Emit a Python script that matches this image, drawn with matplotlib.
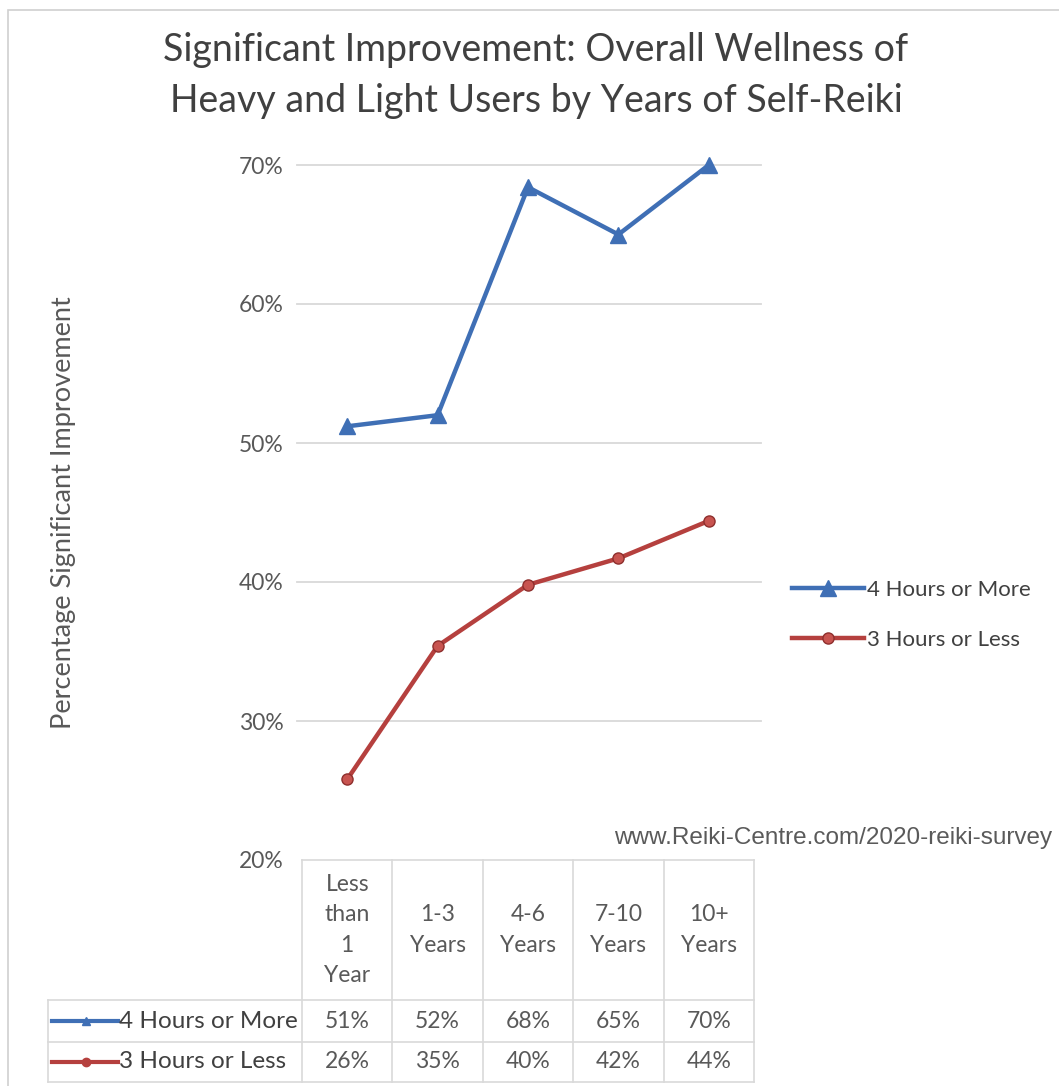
import numpy as np
import matplotlib.pyplot as plt
from matplotlib.lines import Line2D
from matplotlib.patches import Rectangle

plt.rcParams['font.family'] = ['Lato', 'DejaVu Sans']

# --- data ---
categories = ["Less\nthan\n1\nYear", "1-3\nYears", "4-6\nYears", "7-10\nYears", "10+\nYears"]
series_names = ["4 Hours or More", "3 Hours or Less"]
heavy = [51.2, 52.0, 68.4, 65.0, 70.0]
light = [25.8, 35.4, 39.8, 41.7, 44.4]
y_ticks = [20, 30, 40, 50, 60, 70]

blue = "#3f6fb5"
red = "#b5403e"
grey_text = "#595959"
grid_col = "#d9d9d9"

W, H = 1059, 1086
fig = plt.figure(figsize=(W / 100, H / 100), dpi=100)

# outer chart border
fig.patches.append(Rectangle((8 / W, -0.05), 1.1, (H - 10) / H + 0.05,
                             transform=fig.transFigure, fill=False,
                             edgecolor="#d0d0d0", linewidth=1.2))

ax = fig.add_axes([302 / W, 1 - 860 / H, 452 / W, 695 / H])
x = np.arange(len(categories))

ax.plot(x, heavy, color=blue, linewidth=3.2, marker="^", markersize=11,
        markerfacecolor=blue, markeredgecolor=blue, clip_on=False, zorder=3,
        label=series_names[0])
ax.plot(x, light, color=red, linewidth=3.2, marker="o", markersize=8,
        markerfacecolor="#c85450", markeredgecolor="#8e2f2d", clip_on=False,
        zorder=3, label=series_names[1])

ax.set_xlim(-0.5, len(categories) - 0.5)
ax.set_ylim(20, 70)
ax.set_yticks(y_ticks)
ax.set_yticklabels([f"{v}%" for v in y_ticks], fontsize=16.5, color=grey_text)
for v in y_ticks[1:]:
    ax.axhline(v, color=grid_col, linewidth=1.3, zorder=1, xmin=-0.01, xmax=1.015,
               clip_on=False)
ax.tick_params(axis="y", length=0, pad=13)
ax.set_xticks([])
for s in ax.spines.values():
    s.set_visible(False)

ax.set_ylabel("Percentage Significant Improvement", fontsize=19.5,
              color=grey_text, labelpad=0)
ax.yaxis.set_label_coords(-0.5, 0.5)

# --- data table below the plot ---
tr = ax.get_xaxis_transform()
px = 1 / 695  # one pixel in axes height units
y_head = -140 * px
y_r1 = -182 * px
y_r2 = -222 * px
x_left = -3.31
n = len(categories)

table_lines = [
    ([-0.5, n - 0.5], [0, 0]),
    ([x_left, n - 0.5], [y_head, y_head]),
    ([x_left, n - 0.5], [y_r1, y_r1]),
    ([x_left, n - 0.5], [y_r2, y_r2]),
    ([x_left, x_left], [y_head, y_r2]),
]
for i in range(n + 1):
    table_lines.append(([i - 0.5, i - 0.5], [0, y_r2]))
for xs, ys in table_lines:
    ax.add_line(Line2D(xs, ys, transform=tr, color=grid_col, linewidth=1.2,
                       clip_on=False))

for i, cat in enumerate(categories):
    ax.text(i, y_head / 2, cat, transform=tr, ha="center", va="center",
            fontsize=16.5, color=grey_text, linespacing=1.55)

rows = [(series_names[0], heavy, blue, "^", y_head, y_r1),
        (series_names[1], light, red, "o", y_r1, y_r2)]
for name, vals, col, mk, top, bot in rows:
    yc = (top + bot) / 2
    for i, v in enumerate(vals):
        ax.text(i, yc, f"{round(v)}%", transform=tr, ha="center", va="center",
                fontsize=16.5, color=grey_text)
    ax.add_line(Line2D([x_left + 0.05, x_left + 0.78], [yc, yc], transform=tr,
                       color=col, linewidth=3, clip_on=False))
    ax.add_line(Line2D([x_left + 0.42], [yc], transform=tr, color=col,
                       marker=mk, markersize=6, clip_on=False))
    ax.text(x_left + 0.79, yc, name, transform=tr, ha="left", va="center",
            fontsize=17.5, color="#404040")

# legend on the right
fig.legend(loc="center left", bbox_to_anchor=(788 / W, 1 - 615 / H),
           frameon=False, fontsize=16, handlelength=3.2, handletextpad=0.15,
           labelspacing=1.35, labelcolor="#404040", borderaxespad=0,
           borderpad=0.2)

fig.text(536 / W, 1 - 50 / H, "Significant Improvement: Overall Wellness of",
         ha="center", va="center", fontsize=27, color="#404040")
fig.text(536 / W, 1 - 101 / H, "Heavy and Light Users by Years of Self-Reiki",
         ha="center", va="center", fontsize=27, color="#404040")

fig.text(1052 / W, 1 - 838 / H, "www.Reiki-Centre.com/2020-reiki-survey",
         ha="right", va="center", fontsize=17.5, color="#5a5a5a",
         family="Liberation Sans")

fig.savefig("out.png", dpi=100, facecolor="white")
